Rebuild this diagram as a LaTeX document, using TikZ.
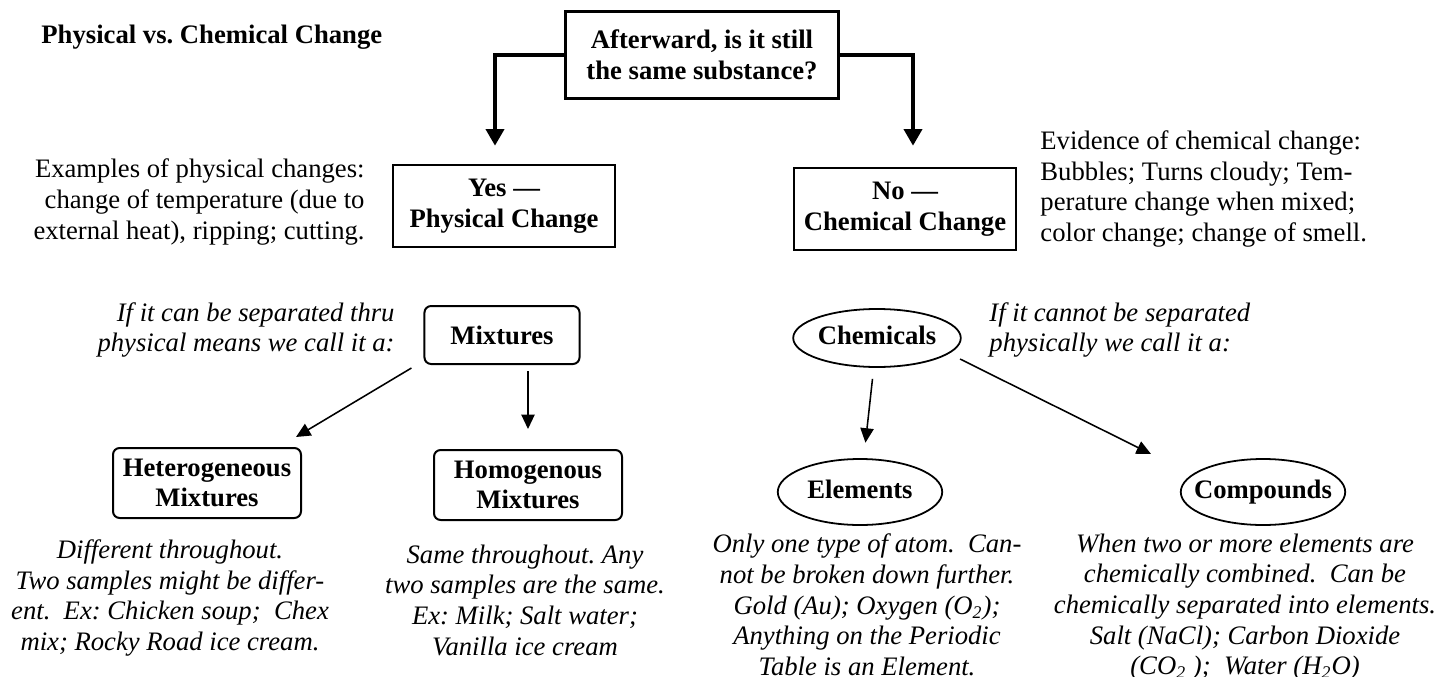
\documentclass[tikz,border=0pt,12pt]{standalone}
\usepackage{fontspec}
\setmainfont{Liberation Serif}
\usetikzlibrary{arrows.meta,positioning,shapes.geometric,calc}
\AtBeginDocument{\fontsize{12}{13.8}\selectfont\frenchspacing}

\tikzset{
	question/.style={draw, line width=1pt, font=\bfseries, align=center, minimum width=122.9pt, minimum height=39.2pt},
	answer/.style={draw, line width=1pt, font=\bfseries, align=center, minimum width=100pt, minimum height=37pt},
	group/.style={draw, line width=0.9pt, rounded corners=3pt, font=\bfseries, align=center, minimum width=84.6pt, minimum height=31.5pt},
	kind/.style={ellipse, draw, line width=0.8pt, font=\bfseries, inner sep=0pt, text height=8.5pt, text depth=2.5pt, minimum width=74pt, minimum height=29.7pt},
	remark/.style={inner sep=0pt},
	example/.style={inner sep=0pt, font=\itshape, align=center},
	elbow/.style={line width=2.2pt, -{Triangle[width=8pt,length=7.5pt]}},
	link/.style={line width=0.7pt, -{Triangle[width=6pt,length=6.5pt]}}
}

\begin{document}
\begin{tikzpicture}[x=0.45pt, y=-0.45pt]
	\useasboundingbox (0,0) rectangle (1438,677);
	% question and the two answers
	\node[remark, anchor=west, font=\bfseries] (title) at (41,37) {Physical vs. Chemical Change};
	\node[question] (ask) at (702,55) {Afterward, is it still\\the same substance?};
	\node[answer] (yes) at (504,206) {Yes ---\\Physical Change};
	\node[answer] (no) at (905,209) {No ---\\Chemical Change};
	\node[remark, anchor=east, align=right] (physnote) at (365,202) {Examples of physical changes:\\change of temperature (due to\\external heat), ripping; cutting.};
	\node[remark, anchor=west, align=left] (chemnote) at (1040,189) {Evidence of chemical change:\\Bubbles; Turns cloudy; Tem-\\perature change when mixed;\\color change; change of smell.};
	% kinds of matter
	\node[group, minimum width=69.8pt, minimum height=26.1pt] (mix) at (502,335) {Mixtures};
	\node[remark, anchor=east, align=right, font=\itshape] (mixnote) at (395,330) {If it can be separated thru\\physical means we call it a:};
	\node[kind, minimum width=75.2pt, minimum height=26.1pt] (chem) at (877,338) {Chemicals};
	\node[remark, anchor=west, align=left, font=\itshape] (chemdef) at (989,330) {If it cannot be separated\\physically we call it a:};
	\node[group] (het) at (207,483) {Heterogeneous\\Mixtures};
	\node[group] (hom) at (528,485) {Homogenous\\Mixtures};
	\node[kind] (elem) at (860,492) {Elements};
	\node[kind, inner xsep=-5pt] (comp) at (1263,492) {Compounds};
	% examples below
	\node[example] (hetex) at (170,598) {Different throughout.\\Two samples might be differ-\\ent.~ Ex: Chicken soup;~ Chex\\mix; Rocky Road ice cream.};
	\node[example] (homex) at (525,600) {Same throughout. Any\\two samples are the same.\\Ex: Milk; Salt water;\\Vanilla ice cream};
	\node[example] (elemex) at (867,605) {Only one type of atom.~ Can-\\not be broken down further.\\Gold (Au); Oxygen (O\textsubscript{2});\\Anything on the Periodic\\Table is an Element.};
	\node[example] (compex) at (1245,607) {When two or more elements are\\chemically combined.~ Can be\\chemically separated into elements.\\Salt (NaCl); Carbon Dioxide\\(CO\textsubscript{2} );~ Water (H\textsubscript{2}O)};
	% connectors
	\coordinate (yesin) at ($(yes.north)+(-9,-18)$);
	\coordinate (noin) at ($(no.north)+(8,-21)$);
	\coordinate (mixout) at ($(mix.south west)+(-12,3)$);
	\coordinate (hetin) at ($(het.north east)+(-6,-10)$);
	\coordinate (chemout) at ($(chem.center)+(83,21)$);
	\coordinate (compin) at ($(comp.center)+(-112,-38)$);
	\draw[elbow] (ask.west) -| (yesin);
	\draw[elbow] (ask.east) -| (noin);
	\draw[link] (mixout) -- (hetin);
	\draw[link, shorten <=2.7pt, shorten >=9pt] (hom.north |- mix.south) -- (hom.north);
	\draw[link, shorten <=5pt, shorten >=7pt] (chem) -- (elem);
	\draw[link] (chemout) -- (compin);
\end{tikzpicture}
\end{document}
